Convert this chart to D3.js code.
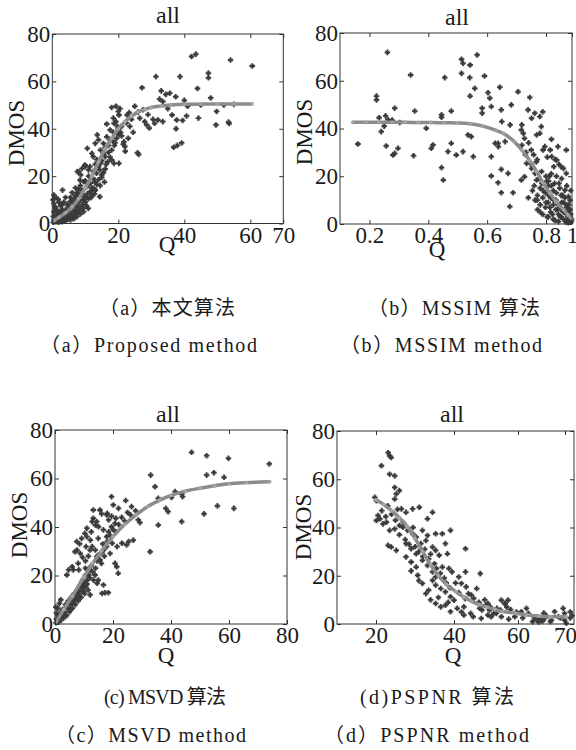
<!DOCTYPE html>
<html>
<head>
<meta charset="utf-8">
<script src="https://cdn.jsdelivr.net/npm/d3@7"></script>
<style>
  body { margin: 0; background: #fff; }
  svg { display: block; }
</style>
</head>
<body>
<div id="chart"></div>
<script>
// ---- data: [Q, DMOS] ----
const pointsA = [
  [54,69],[60.6,66.5],[42.2,70.5],[43.5,71.5],[31.4,62],[38.7,62],[27.2,57.3],[44,57],[47.3,63.5],[47.3,61.5],
  [33,56],[34.4,54.5],[35.6,55],[37.4,53.5],[40,52],[48,53],[32.5,52.5],[33.5,51.5],[36.3,45.8],[37.7,43.7],
  [39.5,43.5],[40.7,45.4],[44.3,44.5],[49.8,47.3],[49.6,41.6],[53.4,42.8],[53.6,42.2],[37.5,40],[36.8,32.2],[37.9,33],
  [39.2,34],[31,42.3],[32,43.7],[29.4,40.3],[28.6,41.6],[33.5,43],[25.8,29.8],[26.2,29.2],[21.7,34.5],[22,32.5],
  [22.1,30.5],[21.5,33.5],[19.3,49.5],[20.5,48.5],[18,49],[20.2,45.8],[20,47.3],[18.5,44.5],[19.3,43],[16.5,42],
  [17.5,39.5],[18.5,38.5],[19.6,38.2],[20.7,38.5],[22.7,45.8],[25,49.5],[23.3,46.8],[13.6,37.4],[14,35.3],[13,33.8],
  [15.5,33.8],[16.5,36.6],[17.5,35.3],[14.6,31],[15.5,29.6],[12,29.6],[12.4,28.2],[10.6,31.7],[16.3,25],[14.4,11.3],
  [8.4,18.3],[8,21.8],[9,23.2],[9.9,24.7],[11.4,24],[9.6,17.6],[10.4,15.5],[12.4,19],[12.9,17.6],[13.4,21.2],
  [14.4,22.6],[15,20.5],[15.8,17.5],[7.2,11.3],[6.4,9.9],[10.9,6.4],[3.1,14.1],[1.8,10.2],[5.4,9.2],[0.8,7],
  [21,41],[22.5,42.5],[24,44],[26,47],[27.5,48],[29,46],[30.5,44],[35,48.5],[41,49.5],[45,50],[52,50],[55,50.3],
  [18.7,42.3],[19.7,41],[16,28.2],[18,26.8],[18.7,25.4],[14.6,25.4],[20.2,25.4],[10,24],[11,22.6],
  [7.6,21.9],[8.6,20.5],[11,16.3],[12,14.9],[13,14.2],
  [0.3,0.5],[0.5,1.5],[0.8,2.5],[1,1],[1.2,3.5],[1.5,0.8],[1.8,2],[2,4],[2.2,1.5],[2.5,3],
  [2.8,5],[3,2],[3.2,3.8],[3.5,1.2],[3.8,4.5],[4,2.5],[4.2,6],[4.5,3.5],[4.8,1.8],[5,5],
  [5.2,3],[5.5,6.5],[5.8,4],[6,2.5],[6.2,7],[6.5,5],[6.8,3.5],[7,8],[7.2,6],[7.5,4.5],
  [7.8,9],[8,7],[8.3,5.5],[8.6,10],[9,8],[9.3,6.5],[9.6,11.5],[10,9],[10.3,7.5],[10.6,12.5],
  [11,10.5],[11.5,13.5],[12,12],[12.5,15],[13,14],[13.5,16.5],[14,18.5],[14.5,16],[15,19.5],[15.5,21.5],
  [16,23],[16.8,26],[17.5,28],[18,31],[18.8,33],[19.5,36],[20.3,37.5],
  [0.5,5],[1,6.5],[1.5,4],[2.5,7.5],[3,6],[3.5,9],[4.5,8],[5.5,11],[6,13],[6.5,10],
  [7,15],[7.5,13],[8.5,16],[9,14],[2,9],[1,11],[0.5,8.5],
  [3,8],[4,11],[5,7.5],[6,9],[7,12],[8,14.5],[9,12.5],[10,18],[11,20],[11.5,17],
  [12.5,22],[13,25],[13.5,27],[14,24],[15,26.5],[16,32],[17,30],[17,33],[18.2,35],[19,34],
  [20,40],[21,37],[8,12],[9.5,10],[10.5,11],[11.8,11],[12.8,12.5],[4,1],[5.5,1.5],[6.5,2],
  [7.5,3],[8.5,4],[9.5,5],[2,0.5],[3,0.8],[1.5,5.5],[0.3,3],[0.2,10],[0.5,12],[23,36],
  [23.5,41],[24.5,38.5],[26.5,44.5],[28,43]
];
const fitA = [
  [0.5,1.2],[2,2.6],[4,4.5],[6,7],[8,10.5],[10,15],[12,20],[14,26],[16,31.5],[18,36],
  [20,40],[22,43],[24,45.3],[26,47],[28,48.2],[30,49],[33,49.6],[36,50],[40,50.3],[45,50.4],
  [50,50.5],[55,50.5],[60.5,50.5]
];

const pointsB = [
  [0.261,71.9],[0.224,53.6],[0.224,52],[0.34,62.4],[0.541,61.3],[0.513,69],[0.518,67.3],[0.542,66.6],[0.566,70.8],[0.513,63.1],
  [0.456,61.3],[0.558,56.8],[0.542,53.6],[0.591,62],[0.603,55],[0.583,48.5],[0.583,46.4],[0.609,52.7],[0.643,57.3],[0.614,49.2],
  [0.648,47.8],[0.682,49.9],[0.705,55.4],[0.745,53],[0.739,47.8],[0.762,46.4],[0.789,47],[0.784,40.8],[0.716,39.4],[0.286,48.5],
  [0.354,47.3],[0.255,45.3],[0.263,43.6],[0.445,45.7],[0.445,44.7],[0.478,47.3],[0.161,33.5],[0.257,32.7],[0.297,31.7],[0.286,29.6],
  [0.28,28.9],[0.35,28.6],[0.393,40.1],[0.41,31.7],[0.416,33.1],[0.445,23.6],[0.451,18.4],[0.478,33.8],[0.467,30.3],[0.495,28.9],
  [0.518,30.3],[0.535,37.3],[0.546,36.6],[0.553,28.2],[0.614,28.2],[0.637,33.8],[0.614,20.1],[0.637,17.3],[0.648,13.1],[0.688,13.1],
  [0.648,22.9],[0.671,21.2],[0.677,7.3],[0.716,18.4],[0.727,19.8],[0.24,38.7],[0.233,44.5],[0.25,41],[0.277,43.5],[0.303,42.5],
  [0.65,42.9],[0.678,41.5],[0.718,41.5],[0.751,44.3],[0.779,45],[0.723,38],[0.727,35.9],[0.768,37.3],[0.779,38],[0.796,32.4],
  [0.832,31],[0.844,28.2],[0.882,26.8],[0.934,23.3],[0.627,33.8],[0.638,32.4],[0.661,34.5],[0.734,25.4],[0.751,23.3],[0.763,21.2],
  [0.768,18.4],[0.786,17],[0.946,14.2],[0.972,11.5],[0.892,32.4],[0.956,31],[0.916,24],[0.956,21.2],[0.842,35.5],
  [0.754,14],[0.763,10],[0.771,12],[0.771,6],[0.78,15],[0.78,8],[0.789,11],[0.789,4],[0.798,13],[0.798,7],
  [0.816,9],[0.816,3],[0.816,16],[0.836,5],[0.836,11],[0.856,8],[0.856,2],[0.856,14],[0.876,6],[0.876,10],
  [0.896,4],[0.896,8],[0.896,1],[0.916,6],[0.916,3],[0.916,12],[0.936,2],[0.936,5],[0.936,9],[0.956,1],
  [0.956,4],[0.956,7],[0.97,2],[0.97,5],[0.97,0.5],[0.985,3],[0.985,1],[0.985,6],[0.998,2],[0.976,8],
  [0.946,11],[0.906,15],[0.866,17],[0.826,20],[0.806,18],[0.785,22],[0.776,19],[0.767,26],[0.758,29],[0.75,31],
  [0.741,34],[0.732,30],[0.718,33],
  [0.77,10],[0.78,5],[0.79,14],[0.8,9],[0.81,3],[0.82,12],[0.83,7],[0.84,16],[0.85,4],[0.86,10],
  [0.87,1.5],[0.88,13],[0.89,6],[0.9,17],[0.91,3],[0.92,9],[0.93,12],[0.94,5],[0.95,1],[0.96,8],
  [0.97,3],[0.98,6],[0.99,4],[0.995,1],[0.8,20],[0.82,18],[0.84,21],[0.86,24],[0.88,20],[0.9,25],
  [0.92,19],[0.76,16],[0.74,11],[0.75,25],[0.77,27],[0.73,29],[0.79,31],[0.81,28],[0.87,27],[0.96,16],
  [0.985,10],[0.99,14]
];
const fitB = [
  [0.144,42.6],[0.188,42.6],[0.233,42.6],[0.277,42.6],[0.321,42.6],[0.365,42.5],[0.409,42.5],[0.453,42.4],[0.498,42.3],[0.542,42],
  [0.586,41],[0.63,39.2],[0.657,37.8],[0.692,34.5],[0.718,31],[0.745,26.5],[0.768,22],[0.789,17.5],[0.832,12.8],[0.876,9.5],
  [0.934,6],[0.968,3.8],[0.998,2.3]
];

const pointsC = [
  [47.1,70.8],[52.3,69.4],[59.8,68.3],[73.9,66],[33,61.4],[34.5,56.6],[52.3,61.4],[54.8,62.4],[58.3,60.5],[38.2,47.7],
  [39,46.3],[35.6,51.8],[40.2,52.2],[41.4,54.6],[43.7,53.6],[44,52.5],[35.6,40.8],[32.8,29.8],[43.7,42.2],[51.4,45.4],
  [56,48.7],[61.7,47.7],[26.4,48.4],[27.8,46.7],[28.7,42.9],[29.3,41.8],[27,34.6],[24.7,32.6],[21.8,20.9],[24.4,50.9],
  [19.5,52.5],[20.1,49.1],[18,45.6],[19.5,44.5],[21,43.6],[20.7,41.5],[19.5,40.1],[13.2,43.6],[14.4,42.2],[15.5,47],
  [16.1,45.4],[13.2,47],[16.7,38.8],[17.8,36],[14.9,35.3],[10.3,37.4],[9.2,35.3],[10.7,31.9],[12.1,30.5],[6.9,29.8],
  [8,25],[6.3,22.3],[14.4,27.8],[15.5,26.4],[16.7,30.5],[17.8,31.9],[19,29.1],[20.7,25],[21.3,23.6],[12.1,22.3],
  [13.8,20.2],[14.9,18.1],[16.7,16.1],[17.2,12.9],[18.4,12.9],[12.1,12],[9.2,15.4],[9.8,13.3],
  [21.9,47.7],[12.8,42.2],[13.9,40.8],[15,40.1],[17.9,45],[18.5,42.9],[11,36],[12.2,34.6],[7.6,30.5],[8.7,29.1],
  [12.8,31.9],[13.9,30.5],[16.2,29.8],[19.7,33.3],[21.4,31.9],[23.1,33.3],[25.4,34],[4.7,22.3],[4.1,20.2],[5.9,23.6],
  [8.2,22.3],[10.5,23],[11.6,20.2],[13.3,18.1],[14.5,16.8],[16.2,12.6],
  [0.3,0.5],[0.5,2],[0.8,1],[1,3.5],[1.2,0.8],[1.5,2.5],[1.8,4.5],[2,1.5],[2.3,3.5],[2.6,6],
  [3,2.5],[3.3,5],[3.6,8],[4,3.5],[4.3,6.5],[4.6,9.5],[5,5],[5.3,8],[5.6,11],[6,6.5],
  [6.3,9.5],[6.6,12.5],[7,8],[7.3,11],[7.6,14],[8,9.5],[8.3,12.5],[8.6,15.5],[9,11],[9.4,14],
  [9.8,17],[10.2,12.5],[10.6,15.5],[11,18],[11.4,14],[0.5,4.5],[1,6.5],[1.5,8.5],[0.3,7],[2,10],
  [2,3],[3,4.5],[4,7],[5,9],[5.5,6],[6,8.5],[7,10],[7.5,12],[8,13.5],[8.5,11],
  [9,16.5],[9.5,18],[10,15],[10.5,20],[11,16.5],[11.5,22.5],[12,19],[12.5,24],[13,21.5],[14,23],
  [14.5,26],[15,28.5],[16,25],[16.5,33],[17,28],[18,34],[18.5,38],[19,36.5],[20,39],[21,38],
  [22,41],[23,44],[24,42.5],[25,46],[26,45],[10.5,26],[11.5,28],[9.5,27.5],[8.5,33],[7.5,34],
  [11,39.5],[12.5,38]
];
const fitC = [
  [0.3,0.5],[3,6],[6,11.5],[10,19.5],[13,25],[16,30],[20,36],[24,41],[28,45],[32,48.5],
  [36,51],[40,53],[45,54.8],[50,56],[55,57],[60,57.8],[66,58.3],[74,58.7]
];

const pointsD = [
  [23.1,71],[23.5,69.7],[23.9,69],[21.4,65.6],[23.5,62.1],[24.8,61.4],[24.8,56.6],[26,55.3],[25.2,53.9],[24.8,51.8],
  [19.7,52.5],[20.1,51.1],[26.5,47.7],[27.7,46.3],[29.4,47.7],[31.1,48.4],[34.5,46.3],[33.2,43.6],[20.1,42.9],[21,43.6],
  [21.8,41.5],[22.7,42.2],[23.5,38.8],[24.8,39.4],[26,40.8],[26.9,40.1],[28.1,38.8],[29.4,37.4],[30.3,36],[31.9,38.8],
  [33.2,36.7],[35.3,37.4],[37,37.4],[39.1,38.8],[23.1,32.6],[23.9,31.9],[25.2,30.5],[27.7,33.3],[29,31.2],[30.3,29.1],
  [31.5,33.3],[32.8,34.6],[34.5,31.9],[35.3,30.5],[36.2,28.5],[37.8,33.3],[38.3,29.1],[43.6,31.2],[27.7,27.8],[29,25.7],
  [30.3,23.6],[31.9,26.4],[33.2,24.3],[34.5,21.6],[35.3,19.5],[37,23.6],[38.7,23],[39.5,21.6],[41.5,19.5],[43.6,21.6],
  [48.2,20.9],[30.7,20.2],[31.9,16.8],[32.8,12.6],[34.5,18.1],[35.3,16.1],[36.6,14.7],[37.8,13.3],[39.1,11.3],[40,9.9],
  [35.3,8.5],[36.6,7.1],[37.8,7.8],[39.1,5.1],[41,6.5],[43.1,7.1],[44.5,12.6],[47.1,14.7],[46.2,10.6],[47.8,8.5],
  [43.1,3.7],[45.2,4.4],[48.7,5.8],[49.9,7.8],[51.3,7.1],[52.4,4.4],[54.5,5.8],[56,8.5],[42.3,16.8],[43.8,15.4],
  [50.6,8.5],[51.1,5.8],[54.8,9.9],[55.8,8.5],[56.9,9.9],[53.2,4.4],[54.8,3],[60.7,5.1],[62.2,4.4],[64.3,3],
  [65.7,2.3],[67.1,1.6],[67.8,5.1],[69.6,6.5],[69.9,4.4],[69.9,1.6],[70.3,0.3],[48.5,2.3],[50.6,3.7],
  [63.1,1],[63.5,2.5],[64.4,0.8],[64.8,2],[65.2,1.2],[63.9,1.8],[66,3.5],[59,3],[57.7,6],[61,2.5],
  [68.6,3],[71.1,2.5],[71.1,5],[57.1,2],
  [20.5,45],[21.5,47],[22.5,44.5],[23,49],[24,45.5],[25,43],[25.5,47.5],[26,37],[27,42],[27.5,35],
  [28.5,33],[29.5,40],[30,32],[31,30],[32,28],[32.5,31],[33.5,27],[34,29],[35,25],[35.5,23],
  [36.5,21],[37.5,19],[38,17],[39,15],[40.5,17],[41.5,13],[43.5,10.5],[45.4,12],[47.8,9],[49.6,10],
  [29,22],[31,18],[33.5,14],[34,10],[36,11],[38.5,9],[42.3,5],[46,3],[48,6.5],[51.6,3],
  [53.4,6.5],[56.5,7],[59.5,5],[61.8,6.5],[65.5,4.5],[69,2.5],[71.5,3.5],[66.9,1]
];
const fitD = [
  [20,51.5],[22,49.5],[24,47],[26,44],[28,40.5],[30,35.5],[32,30],[34,24.5],[36,20],[38,16.5],
  [40.5,13.5],[43,11.2],[45.4,9.5],[47.9,8],[50.3,7],[52.8,6],[55.2,5.2],[59,4.5],[61.8,3.8],[64.4,3.3],
  [66.9,3],[70.2,3]
];

const yTicks = [0, 20, 40, 60, 80];
const xTicksA = [0, 20, 40, 60, 70];
const xTicksB = [0.2, 0.4, 0.6, 0.8, 1];
const xTicksC = [0, 20, 40, 60, 80];
const xTicksD = [20, 40, 60, 70];

const captionsTop = ['（a）本文算法', '（b）MSSIM 算法'];
const captionsBottom = ['（a）Proposed method', '（b）MSSIM method'];
const captionsTop2 = ['(c) MSVD 算法', '(d)PSPNR 算法'];
const captionsBottom2 = ['（c）MSVD method', '（d）PSPNR method'];

// ---- layout ----
const W = 576, H = 750;
const serif = '"Liberation Serif", "Times New Roman", serif';
const cjk = '"Liberation Serif", "Noto Sans CJK SC", serif';

const svg = d3.select('#chart').append('svg')
  .attr('width', W)
  .attr('height', H)
  .style('background', '#fff');

// x scales follow the printed tick labels (b and d have uneven label spacing)
const panels = [
  { points: pointsA, fit: fitA, xTicks: xTicksA, xDomain: [0, 70], xRange: [52.3, 283.3], y0: 223.5, y1: 34,
    titleX: 168, titleY: 23, qX: 167, qY: 252, dmosX: 24, dmosY: 133 },
  { points: pointsB, fit: fitB, xTicks: xTicksB, xDomain: [0.1, 0.8, 1], xRange: [340, 546, 572], y0: 224, y1: 33,
    titleX: 457, titleY: 25, qX: 437, qY: 257, dmosX: 312, dmosY: 132 },
  { points: pointsC, fit: fitC, xTicks: xTicksC, xDomain: [0, 80], xRange: [55, 287], y0: 624, y1: 430,
    titleX: 168, titleY: 422, qX: 166, qY: 663, dmosX: 27, dmosY: 525 },
  { points: pointsD, fit: fitD, xTicks: xTicksD, xDomain: [10, 40, 60, 70, 71.9], xRange: [337, 454, 518, 565, 574], y0: 624, y1: 431,
    titleX: 452, titleY: 422, qX: 453, qY: 663, dmosX: 311, dmosY: 527 }
];

const starPath = 'M-2.8,0H2.8M0,-2.8V2.8';
const starDiag = 'M-1.7,-1.7L1.7,1.7M-1.7,1.7L1.7,-1.7';
const smallStar = 'M-2,0H2M0,-2V2M-1.4,-1.4L1.4,1.4M-1.4,1.4L1.4,-1.4';

function styleAxis(g) {
  g.attr('color', '#333');
  g.select('.domain').remove();
  g.selectAll('text')
    .attr('font-family', serif)
    .attr('font-size', 23)
    .attr('fill', '#1a1a1a');
}

function drawPanel(p) {
  const x = d3.scaleLinear().domain(p.xDomain).range(p.xRange);
  const y = d3.scaleLinear().domain([0, 80]).range([p.y0, p.y1]);
  const left = p.xRange[0], right = p.xRange[p.xRange.length - 1];
  const g = svg.append('g').attr('class', 'panel');

  g.append('rect')
    .attr('x', left).attr('y', p.y1)
    .attr('width', right - left).attr('height', p.y0 - p.y1)
    .attr('fill', '#fff');

  const marks = g.append('g').attr('class', 'scatter')
    .selectAll('g')
    .data(p.points)
    .enter()
    .append('g')
    .attr('transform', (d) => `translate(${x(d[0])},${y(d[1])})`);
  marks.append('path')
    .attr('d', starPath)
    .attr('stroke', '#3a3a3a')
    .attr('stroke-width', 1.8)
    .attr('fill', 'none');
  marks.append('path')
    .attr('d', starDiag)
    .attr('stroke', '#3a3a3a')
    .attr('stroke-width', 1)
    .attr('fill', 'none');

  const line = d3.line()
    .x((d) => x(d[0]))
    .y((d) => y(d[1]))
    .curve(d3.curveMonotoneX);

  g.append('path')
    .datum(p.fit)
    .attr('d', line)
    .attr('fill', 'none')
    .attr('stroke', '#8c8c8c')
    .attr('stroke-width', 3.5)
    .attr('stroke-linecap', 'round');

  g.append('g').attr('class', 'fit-marks')
    .selectAll('path')
    .data(p.fit)
    .enter()
    .append('path')
    .attr('transform', (d) => `translate(${x(d[0])},${y(d[1])})`)
    .attr('d', smallStar)
    .attr('stroke', '#a6a6a6')
    .attr('stroke-width', 1)
    .attr('fill', 'none');

  g.append('rect')
    .attr('x', left).attr('y', p.y1)
    .attr('width', right - left).attr('height', p.y0 - p.y1)
    .attr('fill', 'none')
    .attr('stroke', '#333')
    .attr('stroke-width', 1);

  g.append('g')
    .attr('transform', `translate(0,${p.y0})`)
    .call(d3.axisBottom(x).tickValues(p.xTicks).tickSize(-4).tickPadding(3).tickFormat((d) => String(d)))
    .call(styleAxis);
  g.append('g')
    .attr('transform', `translate(0,${p.y1})`)
    .call(d3.axisTop(x).tickValues(p.xTicks).tickSize(-4).tickFormat(''))
    .call(styleAxis);
  g.append('g')
    .attr('transform', `translate(${left},0)`)
    .call(d3.axisLeft(y).tickValues(yTicks).tickSize(-4).tickPadding(2))
    .call(styleAxis);
  g.append('g')
    .attr('transform', `translate(${right},0)`)
    .call(d3.axisRight(y).tickValues(yTicks).tickSize(-4).tickFormat(''))
    .call(styleAxis);

  g.append('text')
    .attr('x', p.titleX).attr('y', p.titleY)
    .attr('text-anchor', 'middle')
    .attr('font-family', serif).attr('font-size', 24)
    .attr('fill', '#1a1a1a')
    .text('all');

  g.append('text')
    .attr('x', p.qX).attr('y', p.qY)
    .attr('text-anchor', 'middle')
    .attr('font-family', serif).attr('font-size', 23)
    .attr('fill', '#1a1a1a')
    .text('Q');

  g.append('text')
    .attr('transform', `translate(${p.dmosX},${p.dmosY}) rotate(-90)`)
    .attr('text-anchor', 'middle')
    .attr('font-family', serif).attr('font-size', 23)
    .attr('fill', '#1a1a1a')
    .text('DMOS');
}

panels.forEach(drawPanel);

// ---- captions ----
const captionRows = [
  { texts: captionsTop, y: 315, xs: [99, 368], ws: [136, 172], sizes: [20, 20] },
  { texts: captionsBottom, y: 352, xs: [40, 340], ws: [217, 202], sizes: [20, 20] },
  { texts: captionsTop2, y: 704, xs: [104, 360], ws: [122, 154], sizes: [20, 20] },
  { texts: captionsBottom2, y: 742, xs: [55, 324], ws: [191, 205], sizes: [20, 20] }
];

captionRows.forEach((row) => {
  row.texts.forEach((t, i) => {
    svg.append('text')
      .attr('x', row.xs[i])
      .attr('y', row.y)
      .attr('font-family', cjk)
      .attr('font-size', row.sizes[i])
      .attr('fill', '#1a1a1a')
      .attr('textLength', row.ws[i])
      .attr('lengthAdjust', 'spacing')
      .text(t);
  });
});
</script>
</body>
</html>
